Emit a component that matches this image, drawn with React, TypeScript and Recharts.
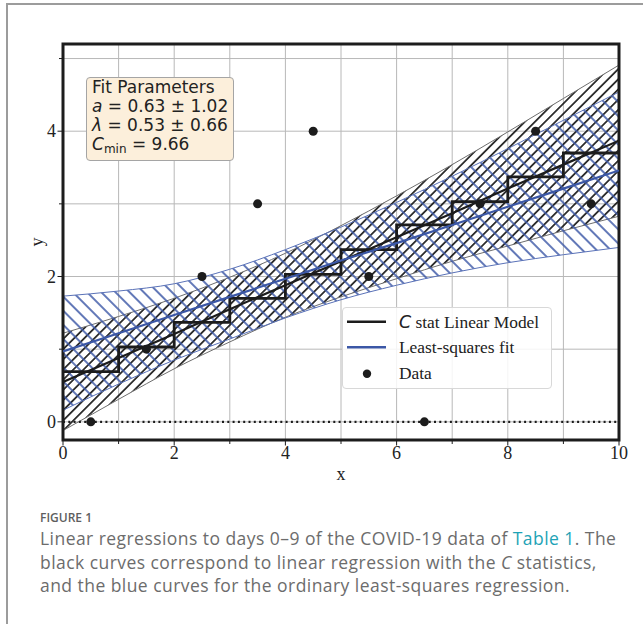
import {
  ComposedChart,
  Area,
  Line,
  Scatter,
  XAxis,
  YAxis,
  CartesianGrid,
  ReferenceLine,
  ReferenceArea,
  Legend,
} from 'recharts'

// model grid (x = day)
const xGrid = [0, 1, 2, 3, 4, 5, 6, 7, 8, 9, 10]
const yGrid = [0, 1, 2, 3, 4, 5]

// C stat linear model: binned values, straight line and its band
const stepLevels = [0.69, 1.03, 1.37, 1.7, 2.03, 2.37, 2.71, 3.03, 3.37, 3.7, 3.7]
const cStatFit = [0.55, 0.88, 1.21, 1.55, 1.88, 2.21, 2.54, 2.87, 3.21, 3.54, 3.87]
const cStatLow = [-0.12, 0.31, 0.73, 1.1, 1.44, 1.72, 1.97, 2.21, 2.42, 2.63, 2.83]
const cStatHigh = [1.22, 1.45, 1.7, 1.99, 2.32, 2.7, 3.11, 3.54, 3.99, 4.45, 4.91]

// least-squares fit and its band
const lsqFit = [0.97, 1.22, 1.47, 1.72, 1.97, 2.22, 2.46, 2.71, 2.96, 3.21, 3.46]
const lsqLow = [0.16, 0.52, 0.85, 1.14, 1.43, 1.68, 1.88, 2.05, 2.19, 2.3, 2.4]
const lsqHigh = [1.73, 1.8, 1.9, 2.1, 2.37, 2.68, 3.02, 3.38, 3.76, 4.15, 4.54]

// observed data
const dayMid = [0.5, 1.5, 2.5, 3.5, 4.5, 5.5, 6.5, 7.5, 8.5, 9.5]
const counts = [0, 1, 2, 3, 4, 2, 0, 3, 4, 3]

const legendItems = [
  { kind: 'line', color: '#1c1c1c', label: 'C stat Linear Model' },
  { kind: 'line', color: '#3b57a6', label: 'Least-squares fit' },
  { kind: 'dot', color: '#1c1c1c', label: 'Data' },
]

const modelData = xGrid.map((x, i) => ({
  x,
  step: stepLevels[i],
  cFit: cStatFit[i],
  cBand: [cStatLow[i], cStatHigh[i]],
  lsFit: lsqFit[i],
  lsBand: [lsqLow[i], lsqHigh[i]],
}))

const points = dayMid.map((x, i) => ({ x, count: counts[i] }))

const BLACK = '#1c1c1c'
const BLUE = '#3b57a6'
const SERIF = '"Liberation Serif", "Times New Roman", serif'

function XTick({ x, y, payload }: any) {
  const v = payload.value
  const major = v % 2 === 0
  return (
    <g>
      <line x1={x} x2={x} y1={y} y2={y + (major ? 5.5 : 4)} stroke={BLACK} strokeWidth={1} />
      {major && (
        <text x={x} y={y + 19} textAnchor="middle" fontFamily={SERIF} fontSize={18} fill="#222">
          {v}
        </text>
      )}
    </g>
  )
}

function YTick({ x, y, payload }: any) {
  const v = payload.value
  const major = v % 2 === 0
  return (
    <g>
      <line x1={x - (major ? 5.5 : 4)} x2={x} y1={y} y2={y} stroke={BLACK} strokeWidth={1} />
      {major && (
        <text x={x - 7} y={y + 6} textAnchor="end" fontFamily={SERIF} fontSize={18} fill="#222">
          {v}
        </text>
      )}
    </g>
  )
}

function LegendBox() {
  return (
    <div
      style={{
        width: 210,
        height: 82,
        boxSizing: 'border-box',
        border: '1px solid #d8d8d8',
        borderRadius: 4,
        background: 'rgba(255,255,255,0.85)',
      }}
    >
      <svg width={208} height={80} style={{ display: 'block' }}>
        {legendItems.map((item, i) => {
          const cy = 13.7 + i * 25.5
          return (
            <g key={item.label}>
              {item.kind === 'line' ? (
                <line x1={4} x2={43} y1={cy} y2={cy} stroke={item.color} strokeWidth={2.6} />
              ) : (
                <circle cx={24} cy={cy + 1} r={4.2} fill={item.color} />
              )}
              <text x={56} y={cy + 5.8} fontFamily={SERIF} fontSize={17.4} fill="#222">
                {i === 0 ? (
                  <>
                    <tspan fontFamily="DejaVu Sans" fontStyle="italic">C</tspan>
                    <tspan>{item.label.slice(1)}</tspan>
                  </>
                ) : (
                  item.label
                )}
              </text>
            </g>
          )
        })}
      </svg>
    </div>
  )
}

export default function App() {
  return (
    <div
      style={{
        position: 'absolute',
        left: 0,
        top: 0,
        width: 643,
        height: 624,
        overflow: 'hidden',
        background: '#fff',
      }}
    >
      <div
        style={{
          position: 'absolute',
          left: 6,
          top: 3,
          width: 700,
          height: 700,
          border: '2px solid #9c9c9c',
        }}
      />
      <div style={{ position: 'absolute', left: 0, top: 0 }}>
        <ComposedChart
          width={643}
          height={500}
          data={modelData}
          margin={{ top: 44, right: 24, left: 13, bottom: 30 }}
        >
          <defs>
            <pattern id="hatchBlack" patternUnits="userSpaceOnUse" width={7.2} height={10} patternTransform="rotate(45)">
              <line x1={3.6} y1={0} x2={3.6} y2={10} stroke="#111" strokeWidth={1.6} />
            </pattern>
            <pattern id="hatchBlue" patternUnits="userSpaceOnUse" width={10} height={10} patternTransform="rotate(-45)">
              <line x1={5} y1={0} x2={5} y2={10} stroke={BLUE} strokeWidth={1.6} />
            </pattern>
          </defs>
          <CartesianGrid stroke="#b8b8b8" strokeWidth={1} />
          <XAxis
            dataKey="x"
            type="number"
            domain={[0, 10]}
            ticks={xGrid}
            interval={0}
            allowDataOverflow
            axisLine={false}
            tickLine={false}
            tickSize={0}
            tickMargin={0}
            height={30}
            tick={<XTick />}
            label={{
              content: ({ viewBox }: any) => (
                <text x={viewBox.x + viewBox.width / 2} y={viewBox.y + 40} textAnchor="middle" fontFamily={SERIF} fontSize={18} fill="#222">
                  x
                </text>
              ),
            }}
          />
          <YAxis
            type="number"
            domain={[-0.25, 5.2]}
            ticks={yGrid}
            interval={0}
            allowDataOverflow
            axisLine={false}
            tickLine={false}
            tickSize={0}
            tickMargin={0}
            width={50}
            tick={<YTick />}
            label={{
              content: ({ viewBox }: any) => (
                <text x={43} y={viewBox.y + viewBox.height / 2} textAnchor="middle" fontFamily={SERIF} fontSize={18} fill="#222" transform={`rotate(-90, 43, ${viewBox.y + viewBox.height / 2})`}>
                  y
                </text>
              ),
            }}
          />
          <ReferenceLine y={0} stroke={BLACK} strokeWidth={2.2} strokeDasharray="2 3.3" />
          <Area
            dataKey="cBand"
            type="monotone"
            stroke="#6e6e6e"
            strokeWidth={1}
            fill="url(#hatchBlack)"
            fillOpacity={1}
            isAnimationActive={false}
          />
          <Area
            dataKey="lsBand"
            type="monotone"
            stroke="#5a72b8"
            strokeWidth={1}
            fill="url(#hatchBlue)"
            fillOpacity={1}
            isAnimationActive={false}
          />
          <Scatter data={points} dataKey="count" fill={BLACK} isAnimationActive={false} />
          <Line dataKey="step" type="stepAfter" stroke={BLACK} strokeWidth={2.8} dot={false} isAnimationActive={false} />
          <Line dataKey="cFit" type="linear" stroke={BLACK} strokeWidth={2.2} dot={false} isAnimationActive={false} />
          <Line dataKey="lsFit" type="linear" stroke={BLUE} strokeWidth={2.2} dot={false} isAnimationActive={false} />
          <ReferenceArea x1={0} x2={10} y1={-0.25} y2={5.2} fill="none" stroke={BLACK} strokeWidth={3} />
          <Legend
            layout="horizontal"
            verticalAlign="middle"
            align="center"
            content={() => <LegendBox />}
            wrapperStyle={{ left: 342, top: 307, width: 210, height: 82 }}
          />
        </ComposedChart>
      </div>

      <div
        style={{
          position: 'absolute',
          left: 86,
          top: 77,
          width: 148,
          height: 84,
          boxSizing: 'border-box',
          background: '#fcefdb',
          border: '1px solid #a5a5a5',
          borderRadius: 4,
          padding: '0 0 0 5px',
          fontFamily: '"DejaVu Sans", sans-serif',
          fontSize: 17,
          lineHeight: '19px',
          color: '#222',
          whiteSpace: 'nowrap',
        }}
      >
        <div>Fit Parameters</div>
        <div>
          <i>a</i> = 0.63 ± 1.02
        </div>
        <div>
          <i>λ</i> = 0.53 ± 0.66
        </div>
        <div>
          <i>C</i>
          <span style={{ fontSize: 12, position: 'relative', top: 3 }}>min</span> = 9.66
        </div>
      </div>

      <div
        style={{
          position: 'absolute',
          left: 40,
          top: 509,
          fontFamily: '"Open Sans", sans-serif',
          color: '#5e5e5e',
          fontSize: 12,
          fontWeight: 600,
          lineHeight: '18px',
        }}
      >
        FIGURE 1
      </div>
      <div
        style={{
          position: 'absolute',
          left: 40,
          top: 527,
          fontFamily: '"Open Sans", sans-serif',
          color: '#6c6c6c',
          fontSize: 17.5,
          letterSpacing: 0.45,
          lineHeight: '23.5px',
          whiteSpace: 'nowrap',
        }}
      >
        <div>
          Linear regressions to days 0–9 of the COVID-19 data of{' '}
          <span style={{ color: '#1ea3b6' }}>Table 1</span>. The
        </div>
        <div>
          black curves correspond to linear regression with the <i>C</i> statistics,
        </div>
        <div>and the blue curves for the ordinary least-squares regression.</div>
      </div>
    </div>
  )
}
